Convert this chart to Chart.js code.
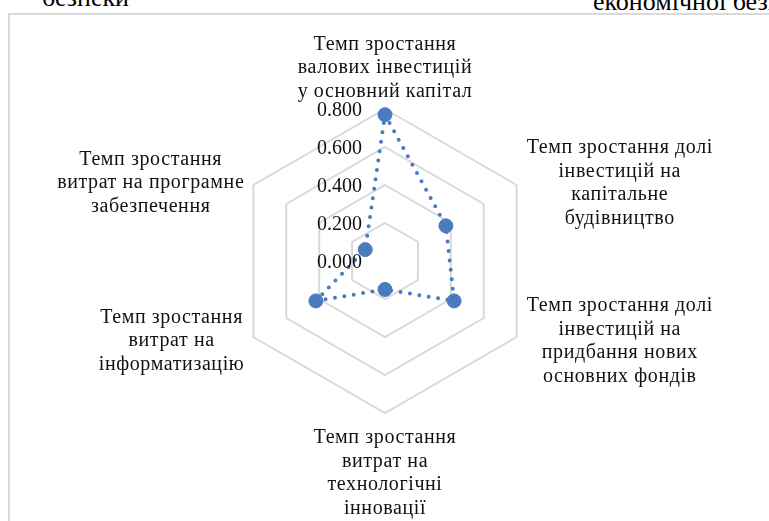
<!DOCTYPE html>
<html>
<head>
<meta charset="utf-8">
<script src="https://cdn.jsdelivr.net/npm/chart.js@4"></script>
<style>
  html, body { margin: 0; padding: 0; width: 769px; height: 521px; overflow: hidden; background: #fff; }
  .doc { position: absolute; font-family: "Liberation Serif", "Times New Roman", serif; font-size: 26px; line-height: 26px; color: #000; white-space: nowrap; }
  #frame { position: absolute; left: 8px; top: 13px; width: 900px; height: 700px; border-left: 2px solid #d9d9d9; border-top: 2px solid #d9d9d9; }
  #wrap { position: absolute; left: 0; top: 0; width: 769px; height: 521px; }
</style>
</head>
<body>
<div class="doc" style="left:42px; top:-15px;">безпеки</div>
<div class="doc" style="left:593px; top:-11px;">економічної безпеки</div>
<div id="frame"></div>
<div id="wrap"><canvas id="radar" width="769" height="521"></canvas></div>
<script>
// axis names (one array of lines per axis, clockwise from the top)
const categories = [
  ['Темп зростання', 'валових інвестицій', 'у основний капітал'],
  ['Темп зростання долі', 'інвестицій на', 'капітальне', 'будівництво'],
  ['Темп зростання долі', 'інвестицій на', 'придбання нових', 'основних фондів'],
  ['Темп зростання', 'витрат на', 'технологічні', 'інновації'],
  ['Темп зростання', 'витрат на', 'інформатизацію'],
  ['Темп зростання', 'витрат на програмне', 'забезпечення']
];
const values = [0.77, 0.37, 0.42, 0.15, 0.42, 0.12];
// value axis ticks
const scaleMin = 0;
const scaleMax = 0.8;
const scaleStep = 0.2;

const blue = '#4a7bbf';
const textFont = '20px "Liberation Serif"';

// Excel puts the value labels left of the vertical axis and centres the
// lines of every axis name, so both are drawn here from the r scale
const labelPlugin = {
  id: 'excelLabels',
  afterDraw(chart) {
    const scale = chart.scales.r;
    const ctx = chart.ctx;
    ctx.save();
    ctx.font = textFont + ', "Times New Roman", serif';
    ctx.fillStyle = '#111';

    ctx.textAlign = 'right';
    ctx.textBaseline = 'middle';
    scale.ticks.forEach((tick) => {
      const y = scale.yCenter - scale.getDistanceFromCenterForValue(tick.value);
      ctx.fillText(tick.label, scale.xCenter - 23, y + 2);
    });

    // the original axis names run a little wider than Liberation Serif
    ctx.letterSpacing = '0.6px';
    const lineH = 23.5;
    ctx.textAlign = 'center';
    categories.forEach((lines, i) => {
      const pt = scale.getPointPosition(i, scale.drawingArea);
      const w = Math.max(...lines.map(l => ctx.measureText(l).width));
      const h = lines.length * lineH;
      let cx, top;
      if (Math.abs(pt.x - scale.xCenter) < 1) {
        cx = pt.x;
        top = pt.y < scale.yCenter ? pt.y - 6 - h : pt.y + 13;
      } else {
        cx = pt.x > scale.xCenter ? pt.x + 10 + w / 2 : pt.x - 9 - w / 2;
        top = pt.y - h / 2 + (pt.y < scale.yCenter ? -2 : 4);
      }
      lines.forEach((l, j) => ctx.fillText(l, cx, top + lineH * (j + 0.5)));
    });
    ctx.restore();
  }
};

const config = {
  type: 'radar',
  data: {
    labels: categories,
    datasets: [{
      data: values,
      fill: false,
      borderColor: blue,
      backgroundColor: blue,
      borderWidth: 4,
      borderDash: [0, 9.5],
      borderCapStyle: 'round',
      pointRadius: 7,
      pointBorderWidth: 1,
      pointBackgroundColor: blue,
      pointBorderColor: blue
    }]
  },
  plugins: [labelPlugin],
  options: {
    responsive: false,
    animation: false,
    layout: {
      padding: { top: 109, bottom: 108, left: 2, right: 0 }
    },
    plugins: {
      legend: { display: false },
      tooltip: { enabled: false }
    },
    scales: {
      r: {
        min: scaleMin,
        max: scaleMax,
        angleLines: { display: false },
        grid: { color: '#d9d9d9', lineWidth: 2 },
        pointLabels: { display: false },
        ticks: {
          display: false,
          stepSize: scaleStep,
          callback: (v) => v.toFixed(3)
        }
      }
    }
  }
};

// wait for the serif face so the canvas text does not fall back
document.fonts.load(textFont).then(() => {
  let myRadar = new Chart(document.getElementById('radar'), config);
});
</script>
</body>
</html>
